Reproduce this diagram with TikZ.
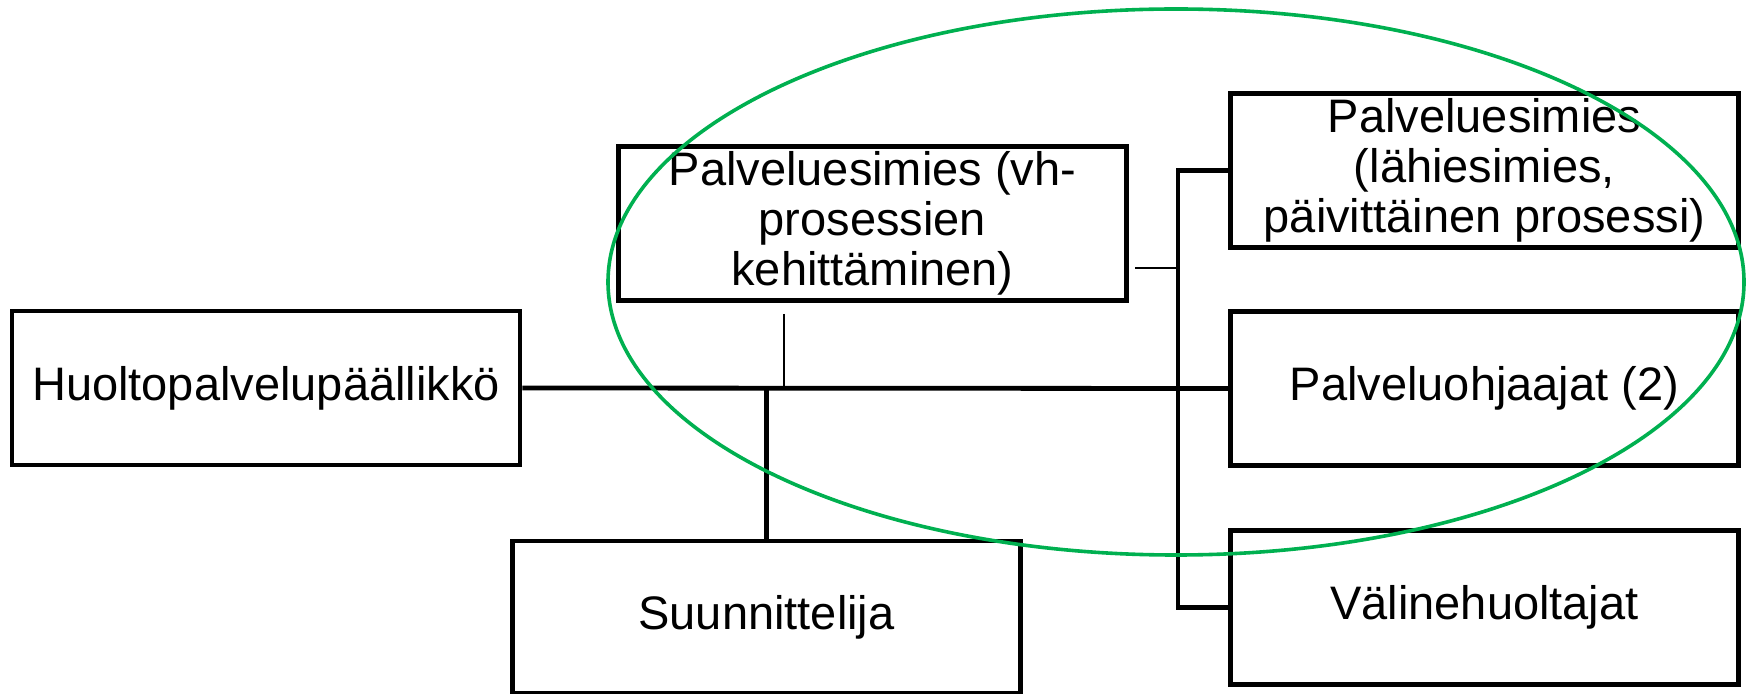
\documentclass[tikz,border=0pt]{standalone}
\usepackage{fontspec}
\setmainfont{Liberation Sans}
\definecolor{rajausvihrea}{RGB}{0,176,80}

\begin{document}
\begin{tikzpicture}[x=0.5pt, y=-0.5pt,
  laatikko/.style={draw, line width=2.35pt, rectangle, minimum width=254pt, minimum height=77pt,
    inner sep=0pt, align=center, font=\fontsize{23.5}{25}\selectfont},
  vayla/.style={line width=2.4pt},
  ohut/.style={line width=1.35pt},
  rajaus/.style={draw=rajausvihrea, line width=1.8pt}]
  \useasboundingbox (0,0) rectangle (1756,694);

  \node[laatikko] (huolto) at (266,388) {Huoltopalvelupäällikkö};
  \node[laatikko] (kehitys) at (872.5,223.5) {Palveluesimies (vh-\\prosessien\\kehittäminen)};
  \node[laatikko, minimum height=76pt] (suunnittelija) at (766.5,617) {Suunnittelija};
  \node[laatikko] (lahiesimies) at (1484.5,170.5) {Palveluesimies\\(lähiesimies,\\päivittäinen prosessi)};
  \node[laatikko] (ohjaajat) at (1484.5,388.5) {Palveluohjaajat (2)};
  \node[laatikko] (valine) at (1484.5,607.5) {Välinehuoltajat};

  \coordinate (pysty) at (1178,0);
  \coordinate (kehitysalas) at (784,314);
  \coordinate (kehitysoikea) at (1135,268);

  \draw[vayla] (huolto.east) -- (ohjaajat.west);
  \draw[vayla] (suunnittelija.north) -- (suunnittelija.north |- huolto.east);
  \draw[ohut] (kehitysalas) -- (kehitysalas |- huolto.east);
  \draw[ohut] (kehitysoikea) -- (kehitysoikea -| pysty);
  \draw[vayla] (lahiesimies.west) -| (valine.west -| pysty) -- (valine.west);

  % vihrea rajaus
  \draw[rajaus] (1176,282) ellipse [x radius=284pt, y radius=136.5pt];
\end{tikzpicture}
\end{document}
